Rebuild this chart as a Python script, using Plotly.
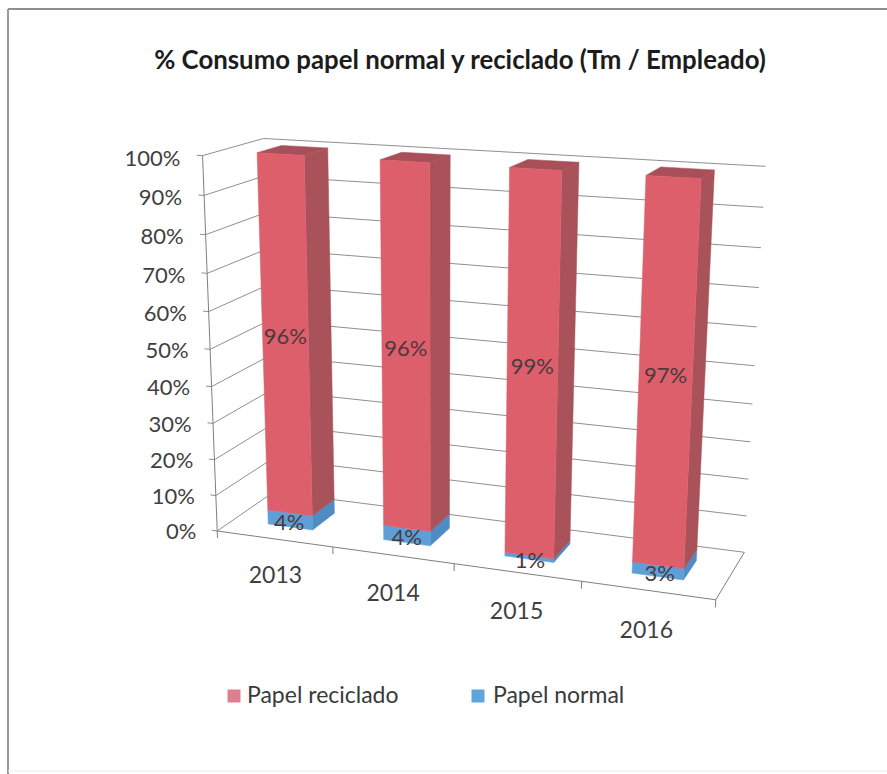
import numpy as np
import plotly.graph_objects as go

# Chart content
YEARS = ["2013", "2014", "2015", "2016"]
PAPEL_NORMAL = [4, 4, 1, 3]
PAPEL_RECICLADO = [96, 96, 99, 97]
PERCENT_TICKS = [0, 10, 20, 30, 40, 50, 60, 70, 80, 90, 100]
TITLE = "% Consumo papel normal y reciclado (Tm / Empleado)"

# Plot-box corners (across, depth, height) and where the camera shows them on the page
BOX_WORLD = [(0, 0, 0), (1, 0, 0), (0, 1, 0), (1, 1, 0), (0, 0, 1), (1, 0, 1), (0, 1, 1), (1, 1, 1)]
BOX_PAGE = [(217, 531), (715, 600), (274, 492), (745, 552), (203, 155), (737, 188), (263, 139), (765, 166)]

BAR_WIDTH = 0.39    # share of one category
DEPTH_FRONT, DEPTH_BACK = 0.285, 0.70

RED = dict(front="#dd5f6c", side="#a9525a", top="#a84f59", swatch="#dc8090")
BLUE = dict(front="#5f9fd8", side="#4f8cc4", top="#4f8cc4", swatch="#5ea5dc")
TEXT = "#3f3f3f"
GRID = "#8f8f8f"
FONT = "Lato"


def fit_camera(world, page):
    """Solve the 3x4 perspective matrix from point pairs (direct linear transform)."""
    rows, rhs = [], []
    for (X, Y, Z), (u, v) in zip(world, page):
        rows.append([X, Y, Z, 1, 0, 0, 0, 0, -u * X, -u * Y, -u * Z])
        rows.append([0, 0, 0, 0, X, Y, Z, 1, -v * X, -v * Y, -v * Z])
        rhs += [u, v]
    sol = np.linalg.lstsq(np.array(rows, float), np.array(rhs, float), rcond=None)[0]
    return np.append(sol, 1).reshape(3, 4)


CAMERA = fit_camera(BOX_WORLD, BOX_PAGE)


def project(x, y, z):
    u, v, w = CAMERA @ np.array([x, y, z, 1.0])
    return u / w, v / w


def polyline(points):
    pts = [project(*p) for p in points]
    return [p[0] for p in pts], [p[1] for p in pts]


fig = go.Figure()


def add_line(points, color=GRID, width=1):
    xs, ys = polyline(points)
    fig.add_trace(go.Scatter(x=xs, y=ys, mode="lines", line=dict(color=color, width=width),
                             showlegend=False, hoverinfo="skip"))


def add_face(points, color):
    xs, ys = polyline(points + points[:1])
    fig.add_trace(go.Scatter(x=xs, y=ys, mode="lines", fill="toself", fillcolor=color,
                             line=dict(color=color, width=0.5), showlegend=False, hoverinfo="skip"))


# Walls and floor
for tick in PERCENT_TICKS:
    z = tick / 100
    add_line([(0, 0, z), (0, 1, z), (1, 1, z)])
    add_line([(-0.012, 0, z), (0, 0, z)])
add_line([(0, 0, 0), (0, 0, 1)], "#7f7f7f")
add_line([(0, 0, 0), (1, 0, 0), (1, 1, 0)], "#7f7f7f")
for i in range(len(YEARS) + 1):
    add_line([(i / len(YEARS), 0, 0), (i / len(YEARS), 0, -0.02)], "#7f7f7f")


def add_block(i, base, height, palette, show_top):
    left = (i + 0.5 - BAR_WIDTH / 2) / len(YEARS)
    right = (i + 0.5 + BAR_WIDTH / 2) / len(YEARS)
    z0, z1 = base / 100, (base + height) / 100
    add_face([(right, DEPTH_FRONT, z0), (right, DEPTH_BACK, z0), (right, DEPTH_BACK, z1), (right, DEPTH_FRONT, z1)], palette["side"])
    if show_top:
        add_face([(left, DEPTH_FRONT, z1), (right, DEPTH_FRONT, z1), (right, DEPTH_BACK, z1), (left, DEPTH_BACK, z1)], palette["top"])
    add_face([(left, DEPTH_FRONT, z0), (right, DEPTH_FRONT, z0), (right, DEPTH_FRONT, z1), (left, DEPTH_FRONT, z1)], palette["front"])


# Stacked columns, normal paper at the bottom
for i in range(len(YEARS)):
    add_block(i, 0, PAPEL_NORMAL[i], BLUE, False)
    add_block(i, PAPEL_NORMAL[i], PAPEL_RECICLADO[i], RED, True)

# Value labels centred in their segment; the thin bottom segment's label sits just ahead of the face
label_x, label_y, label_text = [], [], []
for i in range(len(YEARS)):
    cx = (i + 0.5) / len(YEARS)
    for base, value, across, depth in ((0, PAPEL_NORMAL[i], cx + 0.009, DEPTH_FRONT - 0.09),
                                       (PAPEL_NORMAL[i], PAPEL_RECICLADO[i], cx, DEPTH_FRONT)):
        px, py = project(across, depth, (base + value / 2) / 100)
        label_x.append(px)
        label_y.append(py)
        label_text.append(f"{value}%")
fig.add_trace(go.Scatter(x=label_x, y=label_y, text=label_text, mode="text", textposition="middle center",
                         textfont=dict(family=FONT, size=22, color="#4a3a3c"), showlegend=False, hoverinfo="skip"))

# Percent axis labels
tick_pts = [project(-0.047, 0, t / 100 - 0.015) for t in PERCENT_TICKS]
fig.add_trace(go.Scatter(x=[p[0] for p in tick_pts], y=[p[1] for p in tick_pts], text=[f"{t}%" for t in PERCENT_TICKS],
                         mode="text", textposition="middle left", textfont=dict(family=FONT, size=22, color=TEXT),
                         showlegend=False, hoverinfo="skip"))

# Year labels below the front edge
year_pts = [project((i + 0.5) / len(YEARS), 0, -0.11) for i in range(len(YEARS))]
fig.add_trace(go.Scatter(x=[p[0] for p in year_pts], y=[p[1] for p in year_pts], text=YEARS, mode="text",
                         textposition="middle center", textfont=dict(family=FONT, size=23, color=TEXT),
                         showlegend=False, hoverinfo="skip"))

# Legend entries: swatch, then its name
LEGEND_SWATCH_X = [234, 478]
LEGEND_TEXT_X = [247, 493]
LEGEND_Y = 696
for name, palette, at, text_at in (("Papel reciclado", RED, LEGEND_SWATCH_X[0], LEGEND_TEXT_X[0]),
                                   ("Papel normal", BLUE, LEGEND_SWATCH_X[1], LEGEND_TEXT_X[1])):
    fig.add_trace(go.Scatter(x=[at], y=[LEGEND_Y], mode="markers", name=name,
                             marker=dict(symbol="square", size=13, color=palette["swatch"]),
                             showlegend=False, hoverinfo="skip"))
    fig.add_trace(go.Scatter(x=[text_at], y=[LEGEND_Y + 1], mode="text", text=[name], textposition="middle right",
                             textfont=dict(family=FONT, size=23, color="#3a3a3a"),
                             showlegend=False, hoverinfo="skip"))

fig.update_layout(
    width=887, height=774, margin=dict(l=0, r=0, t=0, b=0),
    paper_bgcolor="white", plot_bgcolor="white", hovermode=False, showlegend=False,
    xaxis=dict(range=[0, 887], visible=False, fixedrange=True),
    yaxis=dict(range=[774, 0], visible=False, fixedrange=True),
    title=dict(text=f"<b>{TITLE}</b>", x=460 / 887, y=1 - 60 / 774, xanchor="center", yanchor="middle",
               font=dict(family=FONT, size=25.8, color="#1c1c1c")),
    shapes=[
        dict(type="line", xref="x", yref="y", x0=8, y0=9, x1=887, y1=9, line=dict(color="#8f8f8f", width=2)),
        dict(type="line", xref="x", yref="y", x0=8, y0=9, x1=8, y1=774, line=dict(color="#9a9a9a", width=2)),
        dict(type="line", xref="x", yref="y", x0=8, y0=771, x1=887, y1=771, line=dict(color="#ececec", width=1)),
    ],
)

fig.write_html("out.html")
